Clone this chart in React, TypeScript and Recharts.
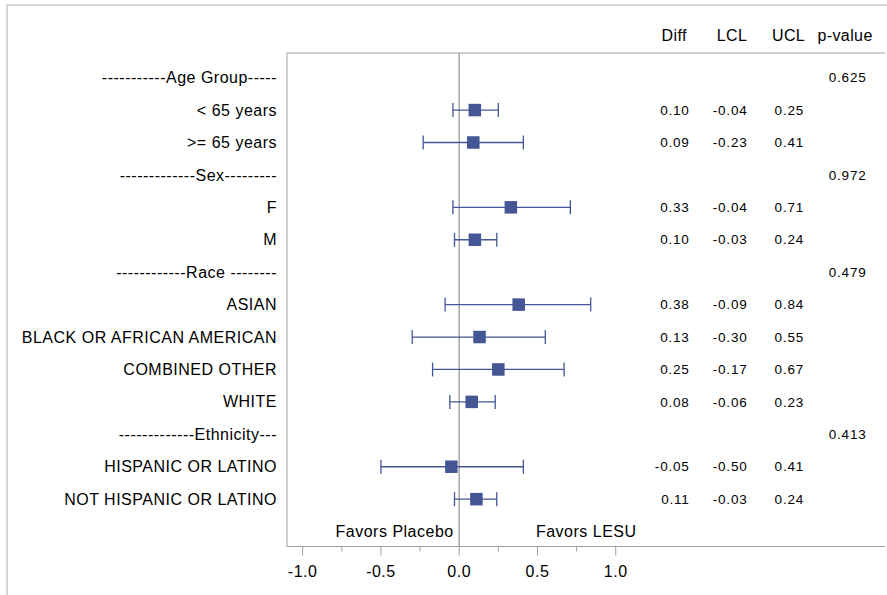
import React from 'react';
import { ScatterChart, Scatter, XAxis, YAxis, ErrorBar, ReferenceLine } from 'recharts';

// rows top to bottom; group header rows carry only a p-value
const rowLabels = [
  '-----------Age Group-----',
  '< 65 years',
  '>= 65 years',
  '-------------Sex---------',
  'F',
  'M',
  '------------Race --------',
  'ASIAN',
  'BLACK OR AFRICAN AMERICAN',
  'COMBINED OTHER',
  'WHITE',
  '-------------Ethnicity---',
  'HISPANIC OR LATINO',
  'NOT HISPANIC OR LATINO',
];
const diffValues = [null, 0.1, 0.09, null, 0.33, 0.1, null, 0.38, 0.13, 0.25, 0.08, null, -0.05, 0.11];
const lclValues = [null, -0.04, -0.23, null, -0.04, -0.03, null, -0.09, -0.3, -0.17, -0.06, null, -0.5, -0.03];
const uclValues = [null, 0.25, 0.41, null, 0.71, 0.24, null, 0.84, 0.55, 0.67, 0.23, null, 0.41, 0.24];
const pValues = ['0.625', null, null, '0.972', null, null, '0.479', null, null, null, null, '0.413', null, null];

const columnHeaders = ['Diff', 'LCL', 'UCL', 'p-value'];
const xTicks = [-1, -0.5, 0, 0.5, 1];
const xMinorTicks = [-0.75, -0.25, 0.25, 0.75];
const favorsLabels = ['Favors Placebo', 'Favors LESU'];

// layout (axis units)
const X_DOMAIN: [number, number] = [-1.1, 2.72];
const Y_DOMAIN: [number, number] = [-0.76, 14.46];
const HEADER_X = [1.373, 1.743, 2.104, 2.465];
const COLUMN_X = [1.472, 1.842, 2.203, 2.602];
const FAVORS_X = [-0.035, 0.49];
const FAVORS_ROW = 14;

const FONT = '"Liberation Sans", Arial, sans-serif';
const BLUE = '#445694';
const FRAME = '#A0A0A0';

const markers = diffValues
  .map((d, i) =>
    d === null
      ? null
      : { x: d, y: i, err: [d - (lclValues[i] as number), (uclValues[i] as number) - d] },
  )
  .filter(Boolean);

const fmt2 = (v: number | null) => (v === null ? null : v.toFixed(2));
const columns = [diffValues.map(fmt2), lclValues.map(fmt2), uclValues.map(fmt2), pValues];
const columnData = columns.map((col, c) =>
  col
    .map((t, i) => (t === null ? null : { x: COLUMN_X[c], y: i, text: t }))
    .filter(Boolean),
);

const favorsData = favorsLabels.map((t, i) => ({
  x: FAVORS_X[i],
  y: FAVORS_ROW,
  text: t,
  anchor: i === 0 ? 'end' : 'start',
}));

// invisible points that tie the header axis to data
const headerData = HEADER_X.map((x) => ({ x, y: 0 }));

function RowLabelTick(props: any) {
  const { x, y, payload } = props;
  return (
    <text x={x - 10} y={y} dy="0.35em" textAnchor="end" fontSize={16} letterSpacing={0.5} fontFamily={FONT} fill="#000">
      {rowLabels[payload.value]}
    </text>
  );
}

function ValueTick(props: any) {
  const { x, y, payload } = props;
  const major = xTicks.includes(payload.value);
  return (
    <g>
      <line x1={x} y1={y} x2={x} y2={y + (major ? 9 : 5)} stroke={FRAME} strokeWidth={1} />
      {major && (
        <text x={x} y={y + 30} textAnchor="middle" fontSize={16} letterSpacing={0.5} fontFamily={FONT} fill="#000">
          {payload.value.toFixed(1)}
        </text>
      )}
    </g>
  );
}

function HeaderTick(props: any) {
  const { x, y, payload } = props;
  const i = HEADER_X.indexOf(payload.value);
  return (
    <text x={x} y={y - 12} textAnchor="middle" fontSize={16} letterSpacing={0.4} fontFamily={FONT} fill="#000">
      {columnHeaders[i]}
    </text>
  );
}

function SquareMarker(props: any) {
  const { cx, cy } = props;
  return <rect x={cx - 6.25} y={cy - 6.25} width={12.5} height={12.5} fill={BLUE} />;
}

function ColumnText(props: any) {
  const { cx, cy, payload } = props;
  return (
    <text x={cx} y={cy} dy="0.35em" textAnchor="end" fontSize={13.5} letterSpacing={0.8} fontFamily={FONT} fill="#000">
      {payload.text}
    </text>
  );
}

function FavorsText(props: any) {
  const { cx, cy, payload } = props;
  return (
    <text x={cx} y={cy} dy="0.35em" textAnchor={payload.anchor} fontSize={16} letterSpacing={0.5} fontFamily={FONT} fill="#000">
      {payload.text}
    </text>
  );
}

const Nothing = () => <g />;

export default function App() {
  const allTicks = [...xTicks, ...xMinorTicks].sort((a, b) => a - b);

  return (
    <div style={{ position: 'absolute', left: 0, top: 0, width: 887, height: 595, overflow: 'hidden', background: '#fff' }}>
      <div
        style={{
          position: 'absolute',
          left: 6,
          top: 4,
          width: 900,
          height: 620,
          borderTop: '2px solid #D6D6D6',
          borderLeft: '2px solid #D6D6D6',
        }}
      />
      <div style={{ position: 'absolute', left: 0, top: 0 }}>
        <ScatterChart width={887} height={595} margin={{ top: 0, right: 2, bottom: 0, left: 0 }}>
          <XAxis
            dataKey="x"
            type="number"
            domain={X_DOMAIN}
            allowDataOverflow
            ticks={allTicks}
            interval={0}
            tickSize={0}
            tickMargin={0}
            tick={<ValueTick />}
            height={48.5}
            axisLine={{ stroke: FRAME }}
          />
          <XAxis
            xAxisId="head"
            dataKey="x"
            orientation="top"
            type="number"
            domain={X_DOMAIN}
            allowDataOverflow
            ticks={HEADER_X}
            interval={0}
            tickSize={0}
            tickMargin={0}
            tick={<HeaderTick />}
            height={53}
            axisLine={{ stroke: FRAME }}
          />
          <YAxis
            dataKey="y"
            type="number"
            domain={Y_DOMAIN}
            allowDataOverflow
            reversed
            ticks={rowLabels.map((_, i) => i)}
            interval={0}
            tickSize={0}
            tickMargin={0}
            tick={<RowLabelTick />}
            width={287}
            axisLine={{ stroke: FRAME }}
          />
          <YAxis
            yAxisId="frame"
            dataKey="y"
            orientation="right"
            type="number"
            domain={Y_DOMAIN}
            allowDataOverflow
            reversed
            tick={false}
            tickLine={false}
            width={0}
            axisLine={{ stroke: FRAME }}
          />
          <ReferenceLine x={0} stroke="#A8A8A8" strokeWidth={1.5} />
          <Scatter
            data={headerData}
            xAxisId="head"
            yAxisId="frame"
            shape={<Nothing />}
            isAnimationActive={false}
          />
          <Scatter data={markers} shape={<SquareMarker />} isAnimationActive={false}>
            <ErrorBar dataKey="err" direction="x" width={7} stroke={BLUE} strokeWidth={1.3} />
          </Scatter>
          {columnData.map((d, c) => (
            <Scatter key={c} data={d} shape={<ColumnText />} isAnimationActive={false} />
          ))}
          <Scatter data={favorsData} shape={<FavorsText />} isAnimationActive={false} />
        </ScatterChart>
      </div>
    </div>
  );
}
